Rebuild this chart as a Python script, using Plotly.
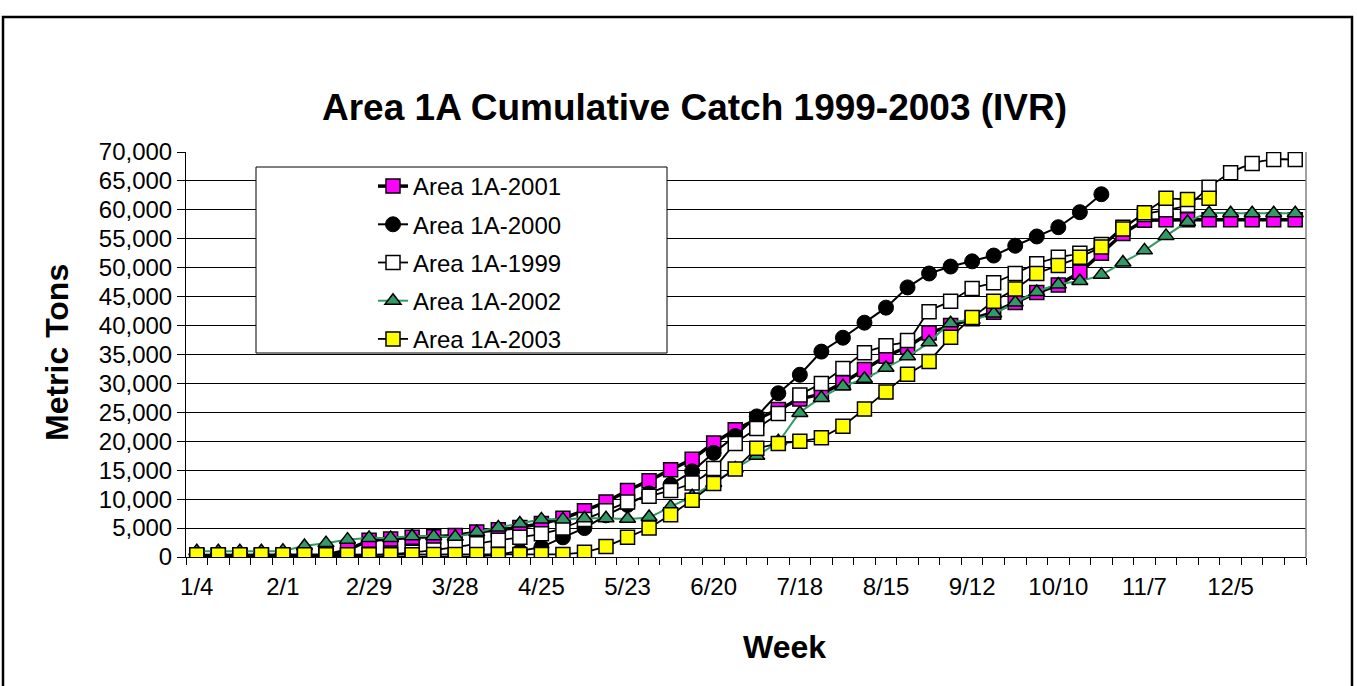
import plotly.graph_objects as go

weeks = ["1/4", "1/11", "1/18", "1/25", "2/1", "2/8", "2/15", "2/22", "2/29", "3/7",
         "3/14", "3/21", "3/28", "4/4", "4/11", "4/18", "4/25", "5/2", "5/9", "5/16",
         "5/23", "5/30", "6/6", "6/13", "6/20", "6/27", "7/4", "7/11", "7/18", "7/25",
         "8/1", "8/8", "8/15", "8/22", "8/29", "9/5", "9/12", "9/19", "9/26", "10/3",
         "10/10", "10/17", "10/24", "10/31", "11/7", "11/14", "11/21", "11/28", "12/5",
         "12/12", "12/19", "12/26"]

area_2001 = [200, 200, 200, 200, 200, 300, 300, 1200, 2900, 3100,
             3400, 3500, 3700, 4300, 4700, 5100, 5800, 6700, 8000, 9500,
             11500, 13200, 15100, 16900, 19700, 22000, 23800, 25500, 27300, 28200,
             30100, 32400, 34700, 36300, 38700, 40000, 41200, 42300, 44000, 45700,
             47000, 49200, 52500, 55900, 58200, 58300, 58300, 58300, 58300, 58300,
             58300, 58300]

area_2000 = [0, 0, 0, 0, 0, 0, 0, 0, 0, 0,
             0, 0, 100, 100, 400, 1000, 1700, 3400, 5000, 7200,
             9000, 11000, 12500, 14800, 18000, 20900, 24300, 28300, 31500, 35500,
             37900, 40500, 43100, 46600, 49000, 50200, 51100, 52100, 53800, 55400,
             57000, 59600, 62700, None, None, None, None, None, None, None,
             None, None]

area_1999 = [300, 300, 300, 300, 300, 300, 300, 300, 300, 500,
             800, 1200, 1700, 2300, 2900, 3400, 4000, 5000, 6500, 8000,
             9500, 10500, 11500, 12800, 15300, 19600, 22200, 24800, 28000, 30000,
             32600, 35300, 36500, 37400, 42400, 44200, 46400, 47400, 49000, 50700,
             51800, 52500, 54000, 57000, 59200, 60000, 60800, 63900, 66400, 68000,
             68700, 68700]

area_2002 = [1000, 1000, 1000, 1000, 1100, 1900, 2400, 3000, 3300, 3300,
             3600, 3600, 3500, 4300, 5100, 5800, 6500, 6500, 6700, 6700,
             6600, 6900, 8700, 10500, 12800, 15300, 17500, 20000, 24900, 27500,
             29500, 30800, 32700, 34700, 37100, 40400, 41000, 42100, 44000, 45800,
             47100, 47700, 48800, 50900, 53000, 55500, 57900, 59400, 59400, 59400,
             59400, 59400]

area_2003 = [400, 400, 400, 400, 400, 400, 400, 400, 400, 400,
             400, 450, 450, 450, 450, 450, 450, 450, 800, 1800,
             3400, 5000, 7300, 9800, 12700, 15200, 18800, 19600, 20000, 20600,
             22600, 25600, 28500, 31600, 33800, 38000, 41400, 44200, 46300, 49000,
             50400, 51800, 53600, 56700, 59500, 62000, 61800, 62000, None, None,
             None, None]

label_every = 4
FONT = "Liberation Sans, Arial, sans-serif"

idx = list(range(len(weeks)))

fig = go.Figure()

series = [
    ("Area 1A-2001", area_2001, dict(symbol="square", size=14, color="#FF00FF",
                                     line=dict(color="black", width=1.5)),
     dict(color="black", width=3.5, shape="linear")),
    ("Area 1A-2000", area_2000, dict(symbol="circle", size=15, color="black",
                                     line=dict(color="black", width=1)),
     dict(color="black", width=2, shape="linear")),
    ("Area 1A-1999", area_1999, dict(symbol="square", size=14, color="white",
                                     line=dict(color="black", width=1.5)),
     dict(color="black", width=1.8, shape="spline", smoothing=0.8)),
    ("Area 1A-2002", area_2002, dict(symbol="triangle-up", size=14, color="#339966",
                                     line=dict(color="black", width=1.5)),
     dict(color="#339966", width=2, shape="spline", smoothing=0.8)),
    ("Area 1A-2003", area_2003, dict(symbol="square", size=14, color="#FFFF00",
                                     line=dict(color="black", width=1.5)),
     dict(color="black", width=1.8, shape="linear")),
]

for name, vals, marker, line in series:
    fig.add_trace(go.Scatter(x=idx, y=vals, name=name, mode="lines+markers",
                             marker=marker, line=line, legendgroup=name,
                             connectgaps=False))

# page geometry (body margin removed via post_script below)
W, H = 1357, 686
L, R, T, B = 186, 1306, 152, 557          # plot area in page pixels
pw, ph = R - L, B - T


def px(x):
    return (x - L) / pw


def py(y):
    return (B - y) / ph


tickvals = idx[::label_every]
ticktext = [weeks[i] for i in tickvals]

fig.update_layout(
    width=W, height=H,
    margin=dict(l=L, r=W - R, t=T, b=H - B),
    paper_bgcolor="white", plot_bgcolor="white",
    font=dict(family=FONT, size=24, color="black"),
    showlegend=True,
    legend=dict(x=px(373), y=py(164), xanchor="left", yanchor="top",
                bgcolor="rgba(0,0,0,0)", borderwidth=0,
                font=dict(family=FONT, size=24, color="black"),
                traceorder="grouped", tracegroupgap=4),
    xaxis=dict(range=[-0.5, len(weeks) - 0.5], tickmode="array",
               tickvals=tickvals, ticktext=ticktext,
               ticks="outside", ticklen=8, tickcolor="white",
               showgrid=False, zeroline=False,
               showline=True, linecolor="black", linewidth=1,
               minor=dict(tick0=-0.5, dtick=1, ticks="outside", ticklen=7,
                          tickcolor="black", tickwidth=1, showgrid=False),
               tickfont=dict(family=FONT, size=24, color="black")),
    yaxis=dict(range=[0, 70000], dtick=5000, tickformat=",d",
               ticks="outside", ticklen=8, tickcolor="black",
               showgrid=True, gridcolor="black", gridwidth=1,
               zeroline=False, showline=True, linecolor="black", linewidth=1,
               tickfont=dict(family=FONT, size=24, color="black")),
)

# legend box
fig.add_shape(type="rect", xref="paper", yref="paper",
              x0=px(256), x1=px(667), y0=py(353), y1=py(167),
              line=dict(color="black", width=1), fillcolor="white", layer="above")
# right plot border
fig.add_shape(type="line", xref="paper", yref="paper", x0=1, x1=1, y0=0, y1=1,
              line=dict(color="#808080", width=1.5))
# outer chart border
fig.add_shape(type="rect", xref="paper", yref="paper",
              x0=px(3), x1=px(1352), y0=py(720), y1=py(17),
              line=dict(color="black", width=2.5), fillcolor="rgba(0,0,0,0)")

fig.add_annotation(text="<b>Area 1A Cumulative Catch 1999-2003 (IVR)</b>",
                   xref="paper", yref="paper", x=px(694), y=py(108),
                   xanchor="center", yanchor="middle", showarrow=False,
                   font=dict(family=FONT, size=37, color="black"))
fig.add_annotation(text="<b>Week</b>", xref="paper", yref="paper",
                   x=px(784), y=py(647), xanchor="center", yanchor="middle",
                   showarrow=False, font=dict(family=FONT, size=32, color="black"))
fig.add_annotation(text="<b>Metric Tons</b>", xref="paper", yref="paper",
                   x=px(57), y=py(353), xanchor="center", yanchor="middle",
                   textangle=-90, showarrow=False,
                   font=dict(family=FONT, size=32, color="black"))

fig.write_html("out.html",
               config={"displayModeBar": False},
               post_script="document.body.style.margin='0';"
                           "document.body.style.overflow='hidden';")
